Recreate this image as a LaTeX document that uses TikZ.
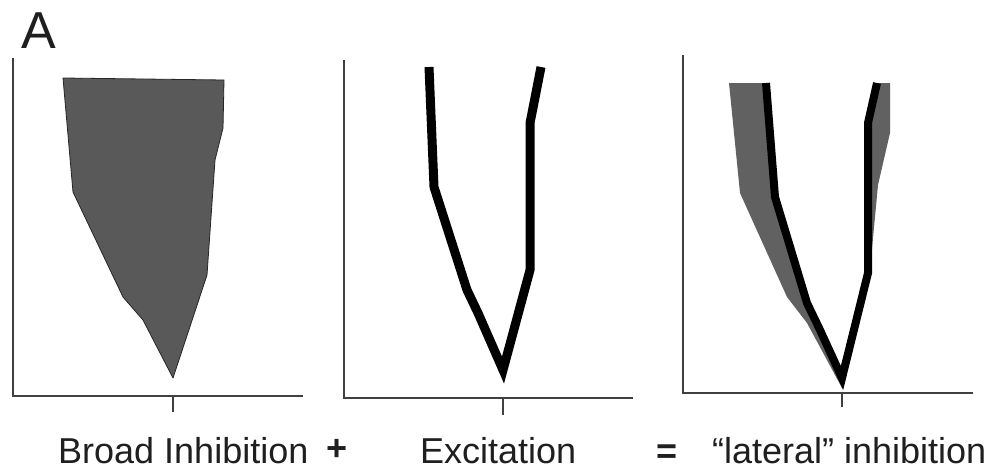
\documentclass[tikz,border=0pt]{standalone}
\usepackage{fontspec}
\setmainfont{Liberation Sans}
\begin{document}
\begin{tikzpicture}[
  x=1pt,y=-1pt,
  axis/.style={line width=1.6pt,black!75},
  inhib/.style={fill=black!65,draw=black!85,line width=0.8pt,line join=round},
  excit/.style={line width=9pt,line join=miter,line cap=butt},
  lbl/.style={anchor=base west,inner sep=0pt,text=black!88,font=\fontsize{36}{40}\selectfont}
]
\useasboundingbox[fill=white] (0,0) rectangle (996,469);
\node[lbl,font=\fontsize{52}{56}\selectfont] (panelA) at (21,48) {A};
% broad inhibition
\draw[axis] (13,58) |- (303,396);
\draw[axis] (173,396) -- (173,412);
\draw[inhib] (63,78) -- (224,80) -- (223,128) -- (215,160) -- (207,275) -- (173,378)
  -- (143,320) -- (123,297) -- (73,192) -- cycle;
% excitation
\draw[axis] (344,60) |- (633,398);
\draw[axis] (503,398) -- (503,415);
\draw[excit] (429,67) -- (434,187) -- (467,290) -- (478,313) -- (503,370)
  -- (530,270) -- (530,123) -- (532,113) -- (541,67);
% sum
\draw[axis] (683,55) |- (973,393);
\draw[axis] (842,393) -- (842,407);
\fill[black!62] (729,83) -- (740,193) -- (787,297) -- (807,323) -- (842,388)
  -- (870,270) -- (878,185) -- (890,133) -- (890,83) -- cycle;
\fill[white] (766,83) -- (775,197) -- (807,303) -- (820,330) -- (842,378)
  -- (868,273) -- (868,123) -- (877,83) -- cycle;
\draw[excit,line width=8pt] (766,83) -- (775,197) -- (807,303) -- (820,330) -- (842,378)
  -- (868,273) -- (868,123) -- (877,83);
\node[lbl] (broad) at (58,463) {Broad Inhibition};
\node[lbl,font=\fontsize{36}{40}\selectfont\bfseries] (plus) at (326,460) {+};
\node[lbl,font=\fontsize{36}{40}\selectfont\bfseries] (equals) at (656,463) {=};
\node[lbl] (excitation) at (420,463) {Excitation};
\node[lbl] (lateral) at (712,463) {“lateral” inhibition};
\end{tikzpicture}
\end{document}
